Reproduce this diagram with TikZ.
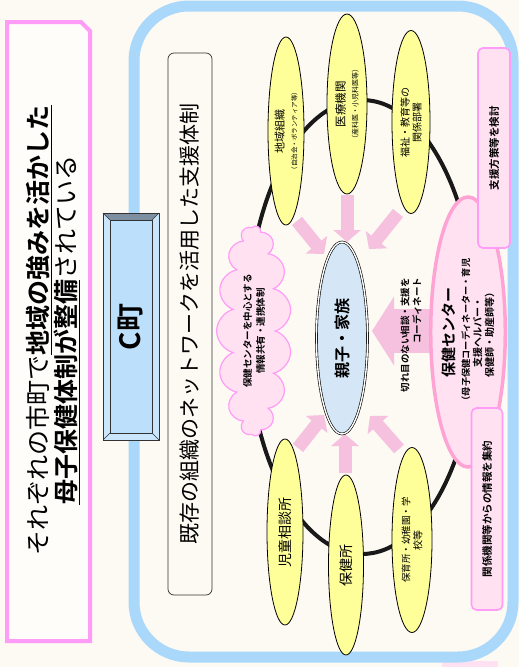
\documentclass[tikz,border=0pt]{standalone}
\usepackage{fontspec}
\setmainfont{Noto Sans CJK JP}[BoldFont={Noto Sans CJK JP Bold}]
\usetikzlibrary{shapes.geometric,shapes.symbols,arrows.meta}
\definecolor{haikei}{HTML}{FDF9F3}
\definecolor{wakuao}{HTML}{AAD8FB}
\definecolor{wakupink}{HTML}{FF9CF7}
\definecolor{kiiro}{HTML}{FFFF99}
\definecolor{yajipink}{HTML}{F5C1DF}
\definecolor{oyakoao}{HTML}{D5E6F6}
\definecolor{usupink}{HTML}{FFE1F1}
\definecolor{centerpink}{HTML}{FFA3D4}
\definecolor{cbox}{HTML}{BCE0FB}
\definecolor{bevtop}{HTML}{7E8FA1}
\definecolor{bevside}{HTML}{C9E6FC}
\tikzset{>=Stealth}
\tikzset{
  kikan/.style={ellipse,draw=black,line width=0.8pt,fill=kiiro,rotate=90,
    inner sep=0pt,align=center},
  yajirushi/.style={draw=yajipink,line width=13pt,
    -{Triangle[width=27pt,length=12pt]}},
  pinkbox/.style={draw=wakupink,line width=1.6pt,fill=usupink,rounded corners=5pt,
    rotate=90,inner sep=0pt,font=\bfseries\fsz{10.5}{12}}
}
\newcommand*{\fsz}[2]{\fontsize{#1pt}{#2pt}\selectfont}

\begin{document}
\begin{tikzpicture}[x=1pt,y=-1pt]
\useasboundingbox (0,0) rectangle (519,667);
\fill[haikei] (0,0) rectangle (519,667);
\fill[usupink] (442,661) rectangle (498,667);
\draw[line width=11pt,wakuao,rounded corners=55pt] (134,6) rectangle (513,657);
% left title
\draw[line width=4pt,wakupink,fill=white!60!haikei] (7,22) -- (81,22) -- (90,31)
  -- (90,641) -- (7,641) -- cycle;
\node[rotate=90,align=center,font=\fsz{25}{28}] (midashi) at (53,330)
  {それぞれの市町で\textbf{\underline{地域の強みを活かした}}\\
   \textbf{\underline{母子保健体制が整備}}されている};
% C machi
\fill[cbox] (103,213) rectangle (159,440);
\fill[bevtop] (103,213) -- (159,213) -- (152,220) -- (110,220) -- cycle;
\fill[bevside] (159,213) -- (159,440) -- (152,433) -- (152,220) -- cycle;
\fill[bevside] (103,213) -- (110,220) -- (110,433) -- (103,440) -- cycle;
\fill[bevside] (103,440) -- (110,433) -- (152,433) -- (159,440) -- cycle;
\draw[line width=0.8pt,black!80] (103,213) rectangle (159,440);
\draw[line width=0.8pt,black!80] (110,220) rectangle (152,433);
\draw[line width=0.6pt,black!80] (103,213) -- (110,220) (159,213) -- (152,220)
  (103,440) -- (110,433) (159,440) -- (152,433);
\node[rotate=90,font=\bfseries\fsz{28}{30}] (cmachi) at (131,327) {C町};
\node[draw=black!80,line width=0.7pt,rounded corners=6pt,rotate=90,
  minimum width=542pt,minimum height=44pt,font=\fsz{21}{24}] (kizon) at (190,324)
  {既存の組織のネットワークを活用した支援体制};
% ring
\draw[line width=4pt,black!90] (362,327) ellipse [x radius=115,y radius=227];
% arrows
\draw[yajirushi,line width=44pt,-{Triangle[width=68pt,length=22pt]}]
  (440,331) -- (372,331);
\coordinate (a1) at (297,221); \coordinate (b1) at (324,254);
\coordinate (a2) at (347,195); \coordinate (b2) at (347,242);
\coordinate (a3) at (398,213); \coordinate (b3) at (369,249);
\coordinate (a4) at (298,448); \coordinate (b4) at (324,415);
\coordinate (a5) at (345,473); \coordinate (b5) at (345,434);
\coordinate (a6) at (399,449); \coordinate (b6) at (370,416);
\foreach \i in {1,...,6}
  \draw[yajirushi] (a\i) -- (b\i);
% organisations
\node[kikan,minimum width=188pt,minimum height=36pt] (chiiki) at (286,131)
  {\fsz{11}{12}地域組織\\[1pt]\fsz{6.5}{7}（自治会・ボランティア等）};
\node[kikan,minimum width=180pt,minimum height=40pt] (iryo) at (347,104)
  {\fsz{11.5}{12}医療機関\\[1pt]\fsz{7}{8}（産科医・小児科医等）};
\node[kikan,minimum width=183pt,minimum height=38pt] (fukushi) at (411,122)
  {\fsz{10}{12}福祉・教育等の\\関係部署};
\node[kikan,minimum width=186pt,minimum height=36pt] (jidou) at (285,532)
  {\fsz{14}{16}児童相談所};
\node[kikan,minimum width=180pt,minimum height=35pt] (hokenjo) at (346,565)
  {\fsz{14}{16}保健所};
\node[kikan,minimum width=185pt,minimum height=40pt] (hoiku) at (412,540)
  {\fsz{9.5}{12}保育所・幼稚園・学\\校等};
% cloud
\node[cloud,cloud puffs=15,aspect=3.5,draw=wakupink,line width=1.2pt,fill=usupink,
  rotate=90,minimum width=210pt,minimum height=62pt,align=center,
  font=\bfseries\fsz{9.5}{13}] (kumo) at (254,331)
  {保健センターを中心とする\\情報共有・連携体制};
% family
\node[ellipse,draw=black,line width=0.6pt,double=white,double distance=1.4pt,
  fill=oyakoao,rotate=90,minimum width=192pt,minimum height=51pt,
  font=\bfseries\fsz{16}{18}] (oyako) at (342,338) {親子・家族};
\node[rotate=90,align=right,font=\bfseries\fsz{9.5}{12}] (kireme) at (411,335)
  {切れ目のない相談・支援を\\コーディネート};
% health center
\node[ellipse,draw=centerpink,line width=3.5pt,fill=usupink,rotate=90,
  minimum width=270pt,minimum height=67pt,align=center,inner sep=0pt,
  font=\bfseries] (center) at (468,332)
  {\fsz{15}{17}保健センター\\[3pt]
   \fsz{9.2}{12}（母子保健コーディネーター・育児\\支援ヘルパー・\\保健師・助産師等）};
\node[pinkbox,minimum width=200pt,minimum height=32pt] (kentou) at (494,148)
  {支援方策等を検討};
\node[pinkbox,minimum width=202pt,minimum height=31pt] (shuyaku) at (487,509)
  {関係機関等からの情報を集約};
\end{tikzpicture}
\end{document}
